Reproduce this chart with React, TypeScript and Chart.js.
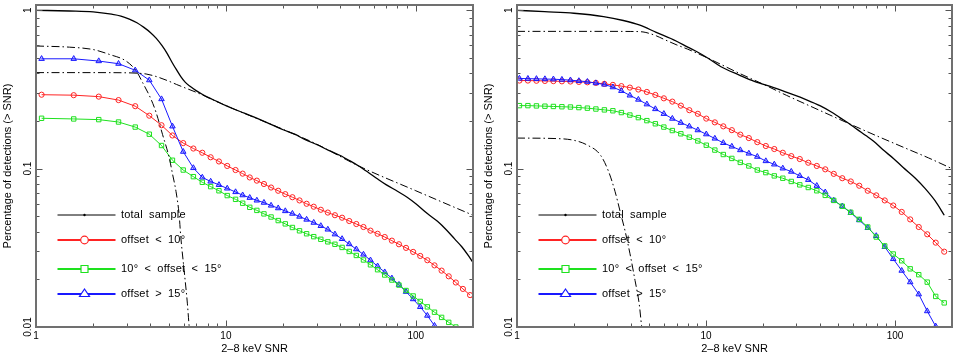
import React, { useEffect, useRef } from "react";
import { Chart, registerables } from "chart.js";

Chart.register(...registerables);

// ---------------- text ----------------
const X_TITLE = "2–8 keV SNR";
const Y_TITLE = "Percentage of detections (> SNR)";
const X_TICKS = [1, 10, 100];
const X_TICK_LABELS = ["1", "10", "100"];
const Y_TICKS = [0.01, 0.1, 1];
const Y_TICK_LABELS = ["0.01", "0.1", "1"];
const LEGEND_LABELS = ["total sample", "offset < 10°", "10° < offset < 15°", "offset > 15°"];

// ---------------- left panel data ----------------
const LEFT_X = [1.07, 1.58, 2.14, 2.72, 3.33, 3.95, 4.58, 5.23, 5.96, 6.74, 7.51, 8.31, 9.19, 10.16, 11.24, 12.25, 13.35, 14.55, 15.86, 17.29, 18.85, 20.54, 22.39, 24.41, 26.6, 29.0, 31.6, 34.4, 37.5, 40.9, 44.6, 48.6, 53.0, 57.7, 62.9, 68.6, 74.8, 81.5, 88.8, 96.8, 105.5, 115, 125.4, 136.7, 149, 162.4, 177, 193];
const LEFT_RED = [0.293, 0.291, 0.285, 0.271, 0.248, 0.216, 0.188, 0.162, 0.145, 0.134, 0.126, 0.118, 0.111, 0.104, 0.098, 0.093, 0.088, 0.084, 0.080, 0.076, 0.0725, 0.069, 0.066, 0.063, 0.060, 0.0575, 0.055, 0.0528, 0.0508, 0.049, 0.0467, 0.0447, 0.0428, 0.0406, 0.0388, 0.0370, 0.0351, 0.0333, 0.0316, 0.0298, 0.0281, 0.0264, 0.0245, 0.0227, 0.0209, 0.0191, 0.0174, 0.0159];
const LEFT_GREEN = [0.208, 0.206, 0.204, 0.197, 0.183, 0.165, 0.140, 0.113, 0.098, 0.089, 0.082, 0.077, 0.0725, 0.0676, 0.064, 0.0605, 0.057, 0.0545, 0.0518, 0.0495, 0.047, 0.0448, 0.0425, 0.0405, 0.0388, 0.0372, 0.0358, 0.0345, 0.0333, 0.0318, 0.0300, 0.0283, 0.0265, 0.0247, 0.0230, 0.0213, 0.0198, 0.0184, 0.0170, 0.0157, 0.0145, 0.0134, 0.0124, 0.0115, 0.0107, 0.0100, 0.0093];
const LEFT_BLUE = [0.494, 0.494, 0.478, 0.46, 0.418, 0.362, 0.275, 0.185, 0.128, 0.101, 0.088, 0.083, 0.079, 0.075, 0.0712, 0.068, 0.0655, 0.063, 0.061, 0.0585, 0.0563, 0.054, 0.052, 0.0498, 0.0477, 0.0456, 0.0435, 0.0413, 0.0385, 0.0360, 0.0334, 0.0310, 0.0287, 0.0264, 0.0242, 0.0222, 0.0203, 0.0185, 0.0167, 0.0150, 0.0134, 0.0118, 0.0102, 0.0089];
const LEFT_TOTAL_X = [1.0, 1.5, 2.0, 2.5, 2.8, 3.1, 3.4, 3.7, 4.0, 4.3, 4.6, 4.9, 5.2, 5.5, 5.8, 6.1, 6.5, 7.0, 7.5, 8.0, 9, 10, 11, 12.5, 14, 16, 18, 20, 23, 26, 30, 35, 40, 45, 50, 56, 63, 70, 80, 90, 100, 115, 130, 145, 160, 175, 190, 200];
const LEFT_TOTAL_Y = [1.0, 0.99, 0.978, 0.945, 0.92, 0.88, 0.835, 0.78, 0.725, 0.665, 0.6, 0.535, 0.47, 0.42, 0.38, 0.352, 0.33, 0.31, 0.295, 0.283, 0.265, 0.25, 0.238, 0.224, 0.212, 0.198, 0.186, 0.176, 0.165, 0.153, 0.142, 0.13, 0.121, 0.112, 0.104, 0.095, 0.086, 0.079, 0.072, 0.066, 0.06, 0.052, 0.0465, 0.041, 0.036, 0.032, 0.028, 0.0255];
const LEFT_MODEL_A_X = [1.0, 2.0, 3.0, 3.5, 3.8, 4.1, 4.46, 5.0, 5.5, 6.0, 7.0, 10, 20, 30, 50, 100, 200];
const LEFT_MODEL_A_Y = [0.404, 0.404, 0.403, 0.40, 0.396, 0.388, 0.376, 0.357, 0.34, 0.326, 0.303, 0.25, 0.177, 0.143, 0.104, 0.0725, 0.0508];
const LEFT_MODEL_B_X = [1.0, 1.5, 2.0, 2.44, 2.98, 3.37, 3.64, 4.03, 4.28, 4.64, 5.03, 5.23, 5.46, 5.67, 5.79, 6.03, 6.27, 6.41, 6.6];
const LEFT_MODEL_B_Y = [0.595, 0.585, 0.565, 0.526, 0.478, 0.414, 0.35, 0.275, 0.228, 0.164, 0.117, 0.093, 0.0718, 0.0513, 0.0367, 0.0226, 0.014, 0.01, 0.008];

// ---------------- right panel data ----------------
const RIGHT_X = [1.03, 1.142, 1.267, 1.405, 1.558, 1.728, 1.917, 2.125, 2.357, 2.614, 2.899, 3.215, 3.566, 3.954, 4.385, 4.863, 5.393, 5.981, 6.633, 7.357, 8.158, 9.048, 10.03, 11.13, 12.34, 13.69, 15.18, 16.84, 18.67, 20.71, 22.96, 25.47, 28.24, 31.32, 34.74, 38.53, 42.72, 47.38, 52.55, 58.28, 64.63, 71.68, 79.5, 88.16, 97.77, 108.4, 120.2, 133.4, 147.9, 164.0, 181.9];
const RIGHT_RED = [0.36, 0.36, 0.359, 0.358, 0.357, 0.356, 0.355, 0.353, 0.351, 0.348, 0.343, 0.338, 0.332, 0.325, 0.316, 0.305, 0.292, 0.278, 0.265, 0.25, 0.234, 0.222, 0.207, 0.196, 0.185, 0.175, 0.164, 0.156, 0.147, 0.139, 0.133, 0.126, 0.12, 0.115, 0.109, 0.104, 0.099, 0.0927, 0.087, 0.083, 0.078, 0.0725, 0.0678, 0.063, 0.0585, 0.0533, 0.0478, 0.0428, 0.0385, 0.0341, 0.0299];
const RIGHT_GREEN = [0.25, 0.25, 0.249, 0.248, 0.247, 0.246, 0.245, 0.243, 0.241, 0.238, 0.235, 0.232, 0.226, 0.218, 0.21, 0.201, 0.192, 0.183, 0.174, 0.166, 0.158, 0.1496, 0.1406, 0.131, 0.1228, 0.116, 0.1095, 0.104, 0.098, 0.0944, 0.09, 0.087, 0.083, 0.079, 0.076, 0.0725, 0.0678, 0.063, 0.0579, 0.053, 0.0478, 0.0428, 0.037, 0.0325, 0.0289, 0.0262, 0.0233, 0.0214, 0.0192, 0.0156, 0.0142];
const RIGHT_BLUE = [0.371, 0.370, 0.369, 0.368, 0.367, 0.365, 0.362, 0.358, 0.354, 0.347, 0.34, 0.327, 0.31, 0.29, 0.273, 0.255, 0.238, 0.222, 0.207, 0.195, 0.185, 0.175, 0.165, 0.155, 0.1454, 0.138, 0.131, 0.1247, 0.119, 0.1117, 0.1064, 0.1004, 0.0958, 0.09, 0.085, 0.078, 0.071, 0.063, 0.0579, 0.0526, 0.0473, 0.0423, 0.0376, 0.0321, 0.0269, 0.0227, 0.0192, 0.0161, 0.0126, 0.0101];
const RIGHT_TOTAL_X = [1.0, 1.4, 2.0, 2.87, 3.65, 4.47, 5.45, 6.94, 8.0, 9.0, 10.2, 12, 15, 18, 22.8, 27, 34, 40, 46, 51, 57, 63, 70, 77, 86, 98, 110, 128, 144, 163, 182];
const RIGHT_TOTAL_Y = [1.0, 0.98, 0.958, 0.913, 0.862, 0.805, 0.725, 0.64, 0.585, 0.545, 0.5, 0.44, 0.39, 0.356, 0.325, 0.302, 0.272, 0.25, 0.228, 0.21, 0.193, 0.177, 0.162, 0.149, 0.132, 0.116, 0.102, 0.087, 0.075, 0.0625, 0.0508];
const RIGHT_MODEL_A_X = [1.0, 2.0, 3.0, 4.0, 4.64, 5.0, 5.45, 6.0, 6.94, 8.0, 10, 15, 20, 26.7, 40, 57.3, 80, 113, 150, 200];
const RIGHT_MODEL_A_Y = [0.736, 0.736, 0.736, 0.735, 0.73, 0.715, 0.69, 0.655, 0.607, 0.568, 0.505, 0.40, 0.342, 0.29, 0.233, 0.192, 0.161, 0.135, 0.117, 0.1];
const RIGHT_MODEL_B_X = [1.0, 1.57, 2.0, 2.35, 2.76, 3.05, 3.3, 3.51, 3.73, 3.96, 4.21, 4.43, 4.56, 4.7];
const RIGHT_MODEL_B_Y = [0.156, 0.155, 0.151, 0.141, 0.122, 0.096, 0.0718, 0.0538, 0.0404, 0.029, 0.0197, 0.014, 0.0102, 0.008];

// ---------------- styling ----------------
const FONT = '"Liberation Sans", Arial, Helvetica, sans-serif';
const FRAME_COLOR = "#707070";
const TICK_COLOR = "#555555";
const RED = "rgb(255,35,35)";
const GREEN = "rgb(30,225,30)";
const BLUE = "rgb(25,25,255)";
const DASH_DOT = [8, 3, 1.5, 3];
const X_MIN = 1;
const X_MAX = 200;
const Y_MIN = 0.01;
const Y_MAX = 1.08;
const MULTS = [1, 2, 3, 4, 5, 6, 7, 8, 9];
const X_DECADES = [1, 10, 100];
const Y_DECADES = [0.01, 0.1, 1];

const pts = (xs: number[], ys: number[]) => ys.map((y, i) => ({ x: xs[i], y }));

function decorPlugin() {
  return {
    id: "decor",
    afterDatasetsDraw(chart: any) {
      const { ctx, chartArea: a } = chart;
      const rows = [215, 240, 269, 294];
      const x0 = a.left + 21.5;
      const x1 = a.left + 79.5;
      const mx = a.left + 48.5;
      const tx = a.left + 85;
      ctx.save();
      const colors = ["#000", RED, GREEN, BLUE];
      rows.forEach((ry: number, i: number) => {
        ctx.strokeStyle = colors[i];
        ctx.lineWidth = i === 0 ? 1 : 2;
        ctx.setLineDash([]);
        ctx.beginPath();
        ctx.moveTo(x0, ry);
        ctx.lineTo(x1, ry);
        ctx.stroke();
        ctx.lineWidth = 1.2;
        ctx.beginPath();
        if (i === 0) {
          ctx.fillStyle = "#000";
          ctx.arc(mx, ry, 1.2, 0, Math.PI * 2);
          ctx.fill();
        } else if (i === 1) {
          ctx.fillStyle = "#fff";
          ctx.arc(mx, ry, 3.8, 0, Math.PI * 2);
          ctx.fill();
          ctx.stroke();
        } else if (i === 2) {
          ctx.fillStyle = "#fff";
          ctx.rect(mx - 3.5, ry - 3.5, 7, 7);
          ctx.fill();
          ctx.stroke();
        } else {
          ctx.fillStyle = "#fff";
          ctx.moveTo(mx, ry - 5);
          ctx.lineTo(mx - 5, ry + 2.5);
          ctx.lineTo(mx + 5, ry + 2.5);
          ctx.closePath();
          ctx.fill();
          ctx.stroke();
        }
        ctx.fillStyle = "#000";
        ctx.font = `11px ${FONT}`;
        ctx.textAlign = "left";
        ctx.textBaseline = "middle";
        try {
          ctx.letterSpacing = "0.2px";
          ctx.wordSpacing = "3px";
        } catch (e) {}
        ctx.fillText(LEGEND_LABELS[i], tx, ry);
        try {
          ctx.letterSpacing = "0px";
          ctx.wordSpacing = "0px";
        } catch (e) {}
      });
      ctx.restore();
    },
    afterDraw(chart: any) {
      const { ctx, chartArea: a } = chart;
      const xs = chart.scales.x;
      const ys = chart.scales.y;
      ctx.save();
      ctx.setLineDash([]);
      // tick marks (inside, all four sides)
      ctx.strokeStyle = TICK_COLOR;
      ctx.lineWidth = 1;
      ctx.beginPath();
      X_DECADES.forEach((d) =>
        MULTS.forEach((m) => {
          const v = d * m;
          if (v < X_MIN || v > X_MAX) return;
          const px = Math.round(xs.getPixelForValue(v)) + 0.5;
          const len = m === 1 ? 6.5 : 3.5;
          ctx.moveTo(px, a.bottom);
          ctx.lineTo(px, a.bottom - len);
          ctx.moveTo(px, a.top);
          ctx.lineTo(px, a.top + len);
        })
      );
      Y_DECADES.forEach((d) =>
        MULTS.forEach((m) => {
          const v = d * m;
          if (v < Y_MIN - 1e-9 || v > Y_MAX) return;
          const py = Math.round(ys.getPixelForValue(v)) + 0.5;
          const len = m === 1 ? 6.5 : 3.5;
          ctx.moveTo(a.left, py);
          ctx.lineTo(a.left + len, py);
          ctx.moveTo(a.right, py);
          ctx.lineTo(a.right - len, py);
        })
      );
      ctx.stroke();
      // frame
      ctx.strokeStyle = FRAME_COLOR;
      ctx.lineWidth = 2;
      ctx.strokeRect(a.left, a.top, a.right - a.left, a.bottom - a.top);
      // tick labels
      ctx.fillStyle = "#000";
      ctx.font = `10px ${FONT}`;
      ctx.textAlign = "center";
      ctx.textBaseline = "middle";
      X_TICKS.forEach((v, i) => {
        ctx.fillText(X_TICK_LABELS[i], xs.getPixelForValue(v), a.bottom + 9.5);
      });
      Y_TICKS.forEach((v, i) => {
        ctx.save();
        ctx.translate(a.left - 8, ys.getPixelForValue(v));
        ctx.rotate(-Math.PI / 2);
        ctx.fillText(Y_TICK_LABELS[i], 0, 0);
        ctx.restore();
      });
      // titles
      ctx.font = `11px ${FONT}`;
      ctx.fillText(X_TITLE, (a.left + a.right) / 2, a.bottom + 21.5);
      ctx.save();
      ctx.translate(a.left - 28.5, (a.top + a.bottom) / 2);
      ctx.rotate(-Math.PI / 2);
      ctx.fillText(Y_TITLE, 0, 0);
      ctx.restore();
      ctx.restore();
    },
  };
}

function buildChart(canvas: HTMLCanvasElement, p: any) {
  const black = (xs: number[], ys: number[], dashed: boolean) => ({
    data: pts(xs, ys),
    borderColor: "#000",
    borderWidth: dashed ? 1 : 1.3,
    borderDash: dashed ? DASH_DOT : [],
    pointRadius: 0,
    cubicInterpolationMode: "monotone",
    clip: 0,
  });
  const marked = (xs: number[], ys: number[], color: string, style: string, r: number, fill: string) => ({
    data: pts(xs, ys),
    borderColor: color,
    borderWidth: 1,
    pointStyle: style,
    pointRadius: r,
    pointBorderColor: color,
    pointBackgroundColor: fill,
    pointBorderWidth: 1,
    tension: 0,
    clip: 0,
  });
  const datasets = [
    black(p.totalX, p.totalY, false),
    black(p.aX, p.aY, true),
    black(p.bX, p.bY, true),
    marked(p.x, p.green, GREEN, "rect", 3.1, "rgba(255,255,255,0)"),
    marked(p.x, p.blue, BLUE, "triangle", 3.2, "rgba(25,25,255,0.3)"),
    marked(p.x, p.red, RED, "circle", 2.6, "rgba(255,255,255,0)"),
  ];
  return new Chart(canvas, {
    type: "line",
    data: { datasets } as any,
    options: {
      animation: false,
      responsive: false,
      devicePixelRatio: 1,
      events: [],
      layout: { padding: p.padding },
      plugins: { legend: { display: false }, tooltip: { enabled: false } },
      scales: {
        x: { type: "logarithmic", min: X_MIN, max: X_MAX, display: false },
        y: { type: "logarithmic", min: Y_MIN, max: Y_MAX, display: false },
      },
    } as any,
    plugins: [decorPlugin()],
  });
}

const LEFT_PANEL = {
  x: LEFT_X, red: LEFT_RED, green: LEFT_GREEN, blue: LEFT_BLUE,
  totalX: LEFT_TOTAL_X, totalY: LEFT_TOTAL_Y,
  aX: LEFT_MODEL_A_X, aY: LEFT_MODEL_A_Y, bX: LEFT_MODEL_B_X, bY: LEFT_MODEL_B_Y,
  padding: { left: 36, right: 2.5, top: 1.5, bottom: 26 },
};
const RIGHT_PANEL = {
  x: RIGHT_X, red: RIGHT_RED, green: RIGHT_GREEN, blue: RIGHT_BLUE,
  totalX: RIGHT_TOTAL_X, totalY: RIGHT_TOTAL_Y,
  aX: RIGHT_MODEL_A_X, aY: RIGHT_MODEL_A_Y, bX: RIGHT_MODEL_B_X, bY: RIGHT_MODEL_B_Y,
  padding: { left: 39, right: 1.5, top: 1.5, bottom: 26 },
};

export default function App() {
  const leftRef = useRef<HTMLCanvasElement>(null);
  const rightRef = useRef<HTMLCanvasElement>(null);
  useEffect(() => {
    document.body.style.margin = "0";
    const c1 = buildChart(leftRef.current as HTMLCanvasElement, LEFT_PANEL);
    const c2 = buildChart(rightRef.current as HTMLCanvasElement, RIGHT_PANEL);
    return () => {
      c1.destroy();
      c2.destroy();
    };
  }, []);
  return (
    <div style={{ position: "absolute", left: 0, top: 0, width: 957, height: 353, background: "#fff" }}>
      <canvas ref={leftRef} width={478} height={353} style={{ position: "absolute", left: 0, top: 0 }} />
      <canvas ref={rightRef} width={479} height={353} style={{ position: "absolute", left: 478, top: 0 }} />
    </div>
  );
}
